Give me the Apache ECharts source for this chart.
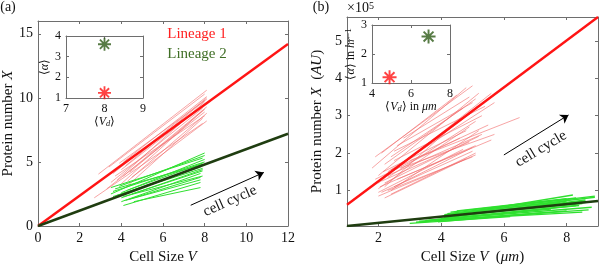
<!DOCTYPE html>
<html lang="en">
<head>
<meta charset="UTF-8">
<title>Protein number vs cell size</title>
<script src="https://cdn.jsdelivr.net/npm/echarts@6/dist/echarts.min.js"></script>
<style>
  html, body { margin: 0; padding: 0; background: #fff; }
  #chart { width: 600px; height: 265px; }
</style>
</head>
<body>
<div id="chart"></div>
<script>
// ---------- panel (a) ----------
var aXTicks = [0, 2, 4, 6, 8, 10, 12];
var aYTicks = [0, 5, 10, 15];
var aRedFit = [[0, 0], [12, 14.2]];
var aGreenFit = [[0, 0], [12, 7.2]];
// single-cell trajectories: [x start, y start, x end, y end]
var aRedTracks = [
  [2.9, 4.05, 8.1, 10.6], [2.7, 2.2, 7.9, 8.0], [3.4, 4.6, 8.0, 10.3], [3.6, 4.1, 8.1, 10.0],
  [3.8, 3.6, 8.0, 9.7], [3.9, 4.9, 8.1, 9.9], [4.0, 3.3, 7.9, 9.0], [4.0, 4.4, 8.0, 9.5],
  [4.1, 3.9, 8.1, 9.3], [4.2, 3.0, 7.9, 8.4], [4.2, 4.7, 8.0, 9.8], [4.3, 3.5, 8.1, 8.8],
  [4.4, 4.2, 8.0, 9.1], [3.7, 3.9, 8.0, 8.6], [4.5, 3.8, 8.1, 8.2], [3.5, 3.4, 7.9, 9.2],
  [4.1, 5.0, 8.1, 10.1], [3.3, 2.9, 8.0, 8.9]
];
var aGreenTracks = [
  [3.5, 2.5, 8.0, 5.7], [3.5, 3.0, 7.9, 5.3], [3.6, 2.7, 8.0, 5.0], [3.7, 2.9, 7.9, 4.8],
  [3.8, 2.4, 7.8, 4.6], [4.0, 2.2, 7.9, 4.4], [4.0, 1.9, 7.8, 4.1], [4.0, 2.6, 8.0, 5.2],
  [4.1, 1.6, 7.8, 3.4], [4.1, 2.3, 7.9, 3.9], [4.2, 2.0, 7.8, 3.6], [4.3, 2.8, 7.9, 4.9],
  [4.4, 2.1, 7.8, 3.8], [4.5, 2.5, 7.9, 4.3], [3.9, 3.1, 8.0, 5.5], [4.6, 1.9, 7.8, 3.0],
  [3.6, 2.3, 7.9, 4.5]
];
var aInsetXTicks = [7, 8, 9];
var aInsetYTicks = [1, 2, 3, 4];
var aInsetRed = [[8, 1.25]];
var aInsetGreen = [[8, 3.6]];
var aArrow = [[7.33, 1.62], [10.84, 4.18]];

// ---------- panel (b) ----------
var bXTicks = [2, 4, 6, 8];
var bYTicks = [1, 2, 3, 4, 5];
var bRedFit = [[1, 0.62], [9, 5.64]];
var bGreenFit = [[1, 0.05], [9, 0.72]];
var bRedTracks = [
  [1.8, 1.6, 4.8, 3.75], [1.9, 1.9, 5.0, 3.8], [2.0, 1.4, 5.2, 3.6], [2.1, 2.0, 4.5, 3.55],
  [2.2, 1.7, 5.1, 3.45], [2.0, 1.2, 5.6, 3.6], [2.3, 1.5, 5.7, 3.35], [2.4, 1.9, 4.7, 3.2],
  [2.1, 1.3, 5.0, 3.1], [2.5, 1.8, 5.3, 3.0], [2.2, 1.1, 4.6, 2.9], [2.6, 2.2, 5.0, 3.35],
  [2.3, 1.35, 5.1, 2.85], [2.0, 1.05, 4.9, 2.7], [2.7, 1.6, 5.7, 2.5], [3.0, 1.8, 6.5, 2.95],
  [2.4, 1.0, 5.2, 2.6], [2.8, 2.4, 4.9, 3.5], [2.0, 0.85, 5.1, 1.95], [2.1, 0.95, 5.0, 2.05],
  [2.2, 0.8, 4.8, 1.85], [2.05, 1.1, 5.1, 2.2], [2.3, 1.0, 5.0, 1.9], [2.1, 1.25, 4.9, 2.3],
  [2.4, 0.9, 5.1, 2.0], [2.2, 1.2, 5.2, 2.45], [2.5, 1.1, 5.0, 2.15], [2.0, 0.95, 4.7, 2.1],
  [2.3, 1.4, 5.3, 2.5], [2.6, 1.3, 5.6, 2.35], [2.15, 1.5, 4.8, 2.6], [2.4, 1.55, 5.5, 2.75],
  [1.9, 1.3, 4.6, 2.4], [2.5, 2.05, 5.4, 3.25]
];
var bGreenTracks = [
  [3.0, 0.12, 6.2, 0.3], [3.2, 0.15, 8.0, 0.45], [3.5, 0.2, 8.8, 0.55], [3.3, 0.18, 8.5, 0.42],
  [4.0, 0.3, 8.2, 0.88], [4.2, 0.38, 8.9, 0.85], [4.3, 0.42, 8.3, 0.8], [4.0, 0.25, 8.6, 0.75],
  [4.5, 0.45, 8.0, 0.78], [4.6, 0.35, 8.8, 0.7], [4.1, 0.28, 7.8, 0.68], [4.4, 0.32, 8.5, 0.65],
  [3.8, 0.22, 8.3, 0.6], [4.7, 0.4, 8.9, 0.82], [3.6, 0.2, 7.5, 0.5], [4.2, 0.22, 8.7, 0.48],
  [3.9, 0.16, 7.2, 0.4], [5.0, 0.4, 8.6, 0.72], [4.8, 0.3, 8.4, 0.6], [4.1, 0.35, 8.0, 0.72]
];
var bInsetXTicks = [4, 6, 8];
var bInsetYTicks = [1, 2, 3];
var bInsetRed = [[4.9, 1.2]];
var bInsetGreen = [[6.9, 2.6]];
var bArrow = [[6.0, 1.95], [8.06, 3.02]];

var FONT = 'Liberation Serif';
var AXIS_COLOR = '#6e6e6e';
var RED = '#ff1414';
var PINK = 'rgba(242, 105, 105, 0.6)';
var LIME = '#2fe02f';
var DARK_GREEN = '#1f3d10';
// MATLAB-like asterisk marker
var STAR = 'path://M8.6 0L11.4 0L11.4 20L8.6 20Z M0 8.6L20 8.6L20 11.4L0 11.4Z M3.93 1.95L18.05 16.07L16.07 18.05L1.95 3.93Z M16.07 1.95L18.05 3.93L3.93 18.05L1.95 16.07Z';

function richStyle(size) {
  return {
    r: { fontFamily: FONT, fontSize: size, color: '#111' },
    i: { fontFamily: FONT, fontSize: size, color: '#111', fontStyle: 'italic' },
    s: { fontFamily: FONT, fontSize: size * 0.7, color: '#111', fontStyle: 'italic', verticalAlign: 'bottom' },
    p: { fontFamily: FONT, fontSize: size * 0.7, color: '#111', verticalAlign: 'top' }
  };
}

function makeAxis(gridIndex, position, min, max, ticks, labelSize, showLabel) {
  return {
    type: 'value', gridIndex: gridIndex, position: position, min: min, max: max,
    axisLine: { show: true, onZero: false, lineStyle: { color: AXIS_COLOR, width: 1 } },
    axisTick: { show: true, inside: true, length: 3, customValues: ticks, lineStyle: { color: AXIS_COLOR } },
    axisLabel: { show: showLabel, customValues: ticks, margin: 5, color: '#111', fontFamily: FONT, fontSize: labelSize },
    splitLine: { show: false }
  };
}

function named(axis, name, gap, size) {
  axis.name = name;
  axis.nameLocation = 'middle';
  axis.nameGap = gap;
  axis.nameTextStyle = { fontFamily: FONT, fontSize: size, color: '#111', rich: richStyle(size) };
  return axis;
}

function trackSeries(tracks, idx, color, width) {
  return tracks.map(function (t) {
    return {
      type: 'line', xAxisIndex: idx, yAxisIndex: idx, data: [[t[0], t[1]], [t[2], t[3]]],
      symbol: 'none', silent: true, z: 2, lineStyle: { color: color, width: width }
    };
  });
}

function fitSeries(points, idx, color, arrow) {
  var s = {
    type: 'line', xAxisIndex: idx, yAxisIndex: idx, data: points, symbol: 'none',
    silent: true, z: 4, lineStyle: { color: color, width: 2.4 }
  };
  if (arrow) {
    s.markLine = {
      silent: true, symbol: ['none', 'arrow'], symbolSize: 8,
      label: { show: false }, lineStyle: { color: '#000', width: 1, type: 'solid' },
      data: [[{ coord: arrow[0] }, { coord: arrow[1] }]]
    };
  }
  return s;
}

function starSeries(points, idx, color, size) {
  return {
    type: 'scatter', xAxisIndex: idx, yAxisIndex: idx, data: points, symbol: STAR,
    symbolSize: size, silent: true, itemStyle: { color: color }
  };
}

var xAxes = [
  named(makeAxis(0, 'bottom', 0, 12, aXTicks, 14, true), '{r|Cell Size }{i|V}', 23, 15),
  makeAxis(0, 'top', 0, 12, aXTicks, 14, false),
  named(makeAxis(1, 'bottom', 7, 9, aInsetXTicks, 12, true), '{r|⟨}{i|V}{s|d}{r|⟩}', 15, 12),
  makeAxis(1, 'top', 7, 9, aInsetXTicks, 12, false),
  named(makeAxis(2, 'bottom', 1, 9, bXTicks, 14, true), '{r|Cell Size }{i|V}{r|  (}{i|μm}{r|)}', 23, 15),
  makeAxis(2, 'top', 1, 9, bXTicks, 14, false),
  named(makeAxis(3, 'bottom', 4, 8, bInsetXTicks, 12, true), '{r|⟨}{i|V}{s|d}{r|⟩ in }{i|μm}', 15, 12),
  makeAxis(3, 'top', 4, 8, bInsetXTicks, 12, false)
];
var yAxes = [
  named(makeAxis(0, 'left', 0, 16, aYTicks, 14, true), '{r|Protein number }{i|X}', 22, 15),
  makeAxis(0, 'right', 0, 16, aYTicks, 14, false),
  named(makeAxis(1, 'left', 1, 4, aInsetYTicks, 12, true), '{r|⟨}{i|α}{r|⟩}', 12, 12),
  makeAxis(1, 'right', 1, 4, aInsetYTicks, 12, false),
  named(makeAxis(2, 'left', 0.05, 5.64, bYTicks, 14, true), '{r|Protein number }{i|X}{r|  (}{i|AU}{r|)}', 22, 15),
  makeAxis(2, 'right', 0.05, 5.64, bYTicks, 14, false),
  named(makeAxis(3, 'left', 1, 3, bInsetYTicks, 12, true), '{r|⟨}{i|α}{r|⟩ in }{i|hr}{p|−1}', 14, 12),
  makeAxis(3, 'right', 1, 3, bInsetYTicks, 12, false)
];

var series = []
  .concat(trackSeries(aRedTracks, 0, PINK, 1))
  .concat(trackSeries(aGreenTracks, 0, LIME, 1))
  .concat([fitSeries(aRedFit, 0, RED), fitSeries(aGreenFit, 0, DARK_GREEN, aArrow)])
  .concat([starSeries(aInsetRed, 2, RED, 13), starSeries(aInsetGreen, 2, '#2d5a16', 13)])
  .concat(trackSeries(bRedTracks, 4, PINK, 1))
  .concat(trackSeries(bGreenTracks, 4, LIME, 1.4))
  .concat([fitSeries(bRedFit, 4, RED), fitSeries(bGreenFit, 4, DARK_GREEN, bArrow)])
  .concat([starSeries(bInsetRed, 6, RED, 14), starSeries(bInsetGreen, 6, '#2d5a16', 14)]);

function label(text, x, y, size, color, rot) {
  return {
    type: 'text', x: x, y: y, rotation: rot || 0, silent: true,
    style: {
      text: text, fill: color || '#111', font: size + 'px "' + FONT + '"',
      align: 'center', verticalAlign: 'middle', textAlign: 'center', textVerticalAlign: 'middle'
    }
  };
}

var chart = echarts.init(document.getElementById('chart'), null, { renderer: 'canvas' });
chart.setOption({
  animation: false,
  backgroundColor: '#fff',
  grid: [
    { left: 38, top: 21, width: 250, height: 205, containLabel: false, outerBoundsMode: 'none' },
    { left: 66, top: 36, width: 77, height: 62, containLabel: false, outerBoundsMode: 'none', show: true, backgroundColor: '#fff', borderWidth: 0 },
    { left: 347, top: 17, width: 251, height: 209, containLabel: false, outerBoundsMode: 'none' },
    { left: 372, top: 25, width: 78, height: 58, containLabel: false, outerBoundsMode: 'none', show: true, backgroundColor: '#fff', borderWidth: 0 }
  ],
  xAxis: xAxes,
  yAxis: yAxes,
  series: series,
  graphic: [
    label('(a)', 8, 7, 14),
    label('(b)', 321, 7, 14),
    {
      type: 'text', x: 347, y: 1, silent: true,
      style: {
        text: '{a|×10}{b|5}',
        rich: {
          a: { fontFamily: FONT, fontSize: 14, fill: '#111', color: '#111' },
          b: { fontFamily: FONT, fontSize: 10, fill: '#111', color: '#111', verticalAlign: 'top' }
        }
      }
    },
    label('Lineage 1', 197, 34, 15, '#ff2020'),
    label('Lineage 2', 197, 54, 15, '#3f6e25'),
    label('cell cycle', 230, 201, 15, '#111', 24 * Math.PI / 180),
    label('cell cycle', 541, 149, 15, '#111', 31 * Math.PI / 180)
  ]
});
</script>
</body>
</html>
